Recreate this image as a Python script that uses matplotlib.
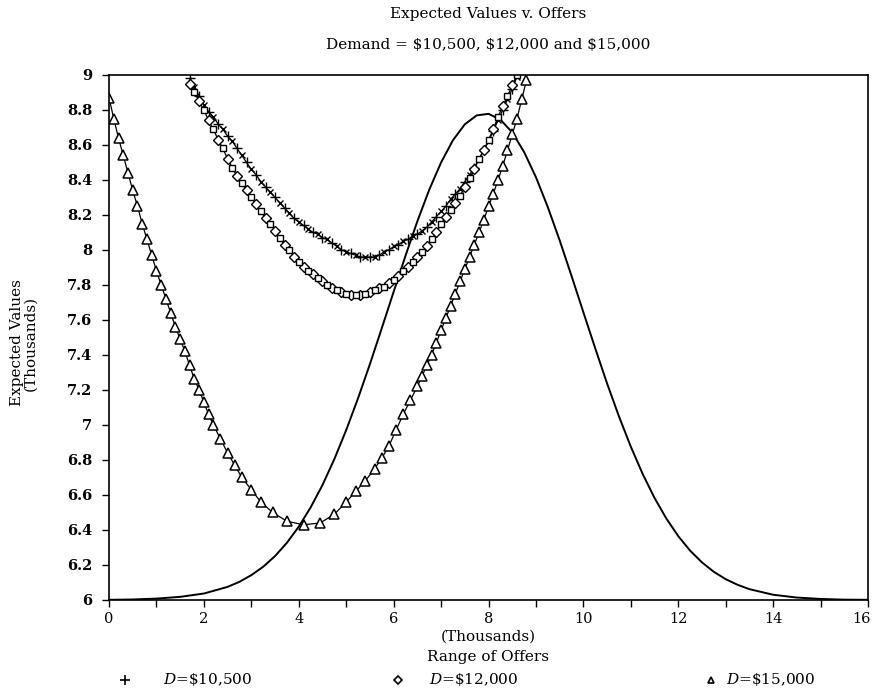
import matplotlib
matplotlib.use("Agg")
import matplotlib.pyplot as plt
import matplotlib.transforms as mtransforms
from matplotlib.lines import Line2D

plt.rcParams['font.family'] = ['DejaVu Serif']
plt.rcParams['mathtext.fontset'] = 'dejavuserif'

# D = $10,500 (crosses) and D = $12,000 (diamonds), x in thousands
x_top = [1.7, 1.8, 1.9, 2.0, 2.1, 2.2, 2.3, 2.4, 2.5, 2.6, 2.7, 2.8, 2.9, 3.0,
         3.1, 3.2, 3.3, 3.4, 3.5, 3.6, 3.7, 3.8, 3.9, 4.0, 4.1, 4.2, 4.3, 4.4,
         4.5, 4.6, 4.7, 4.8, 4.9, 5.0, 5.1, 5.2, 5.3, 5.4, 5.5, 5.6, 5.7, 5.8,
         5.9, 6.0, 6.1, 6.2, 6.3, 6.4, 6.5, 6.6, 6.7, 6.8, 6.9, 7.0, 7.1, 7.2,
         7.3, 7.4, 7.5, 7.6, 7.7, 7.8, 7.9, 8.0, 8.1, 8.2, 8.3, 8.4, 8.5, 8.6]
ev_10500 = [8.98, 8.93, 8.88, 8.83, 8.79, 8.76, 8.72, 8.69, 8.65, 8.62, 8.58, 8.54,
            8.50, 8.46, 8.43, 8.39, 8.36, 8.33, 8.30, 8.27, 8.24, 8.21, 8.18, 8.16,
            8.14, 8.12, 8.10, 8.09, 8.07, 8.06, 8.04, 8.02, 8.00, 7.99, 7.98, 7.97,
            7.96, 7.96, 7.96, 7.96, 7.97, 7.99, 8.00, 8.02, 8.03, 8.05, 8.06, 8.08,
            8.09, 8.11, 8.13, 8.16, 8.19, 8.22, 8.25, 8.29, 8.32, 8.35, 8.39, 8.43,
            8.47, 8.52, 8.57, 8.62, 8.68, 8.74, 8.80, 8.86, 8.92, 8.99]
ev_12000 = [8.95, 8.90, 8.85, 8.80, 8.74, 8.69, 8.63, 8.58, 8.52, 8.47, 8.42, 8.38,
            8.34, 8.30, 8.26, 8.22, 8.18, 8.15, 8.11, 8.07, 8.03, 8.00, 7.96, 7.93,
            7.90, 7.88, 7.86, 7.84, 7.82, 7.80, 7.78, 7.77, 7.76, 7.75, 7.74, 7.74,
            7.74, 7.75, 7.76, 7.77, 7.78, 7.79, 7.81, 7.83, 7.85, 7.88, 7.90, 7.93,
            7.96, 7.99, 8.02, 8.06, 8.10, 8.15, 8.19, 8.23, 8.27, 8.31, 8.36, 8.41,
            8.46, 8.52, 8.57, 8.63, 8.69, 8.76, 8.82, 8.88, 8.94, 9.00]

# D = $15,000 (triangles)
x_15000 = [0.0, 0.1, 0.2, 0.3, 0.4, 0.5, 0.6, 0.7, 0.8, 0.9, 1.0, 1.1, 1.2, 1.3,
           1.4, 1.5, 1.6, 1.7, 1.8, 1.9, 2.0, 2.1, 2.2, 2.35, 2.5, 2.65, 2.8, 3.0,
           3.2, 3.45, 3.75, 4.1, 4.45, 4.75, 5.0, 5.2, 5.4, 5.6, 5.75, 5.9, 6.05,
           6.2, 6.35, 6.5, 6.6, 6.7, 6.8, 6.9, 7.0, 7.1, 7.2, 7.3, 7.4, 7.5, 7.6,
           7.7, 7.8, 7.9, 8.0, 8.1, 8.2, 8.3, 8.4, 8.5, 8.6, 8.7, 8.8]
ev_15000 = [8.87, 8.75, 8.64, 8.54, 8.44, 8.34, 8.25, 8.15, 8.06, 7.97, 7.88, 7.80,
            7.72, 7.64, 7.56, 7.49, 7.42, 7.34, 7.26, 7.20, 7.13, 7.06, 7.00, 6.92,
            6.84, 6.77, 6.70, 6.63, 6.56, 6.50, 6.45, 6.43, 6.44, 6.49, 6.56, 6.62,
            6.68, 6.75, 6.81, 6.88, 6.97, 7.06, 7.14, 7.22, 7.28, 7.34, 7.40, 7.47,
            7.54, 7.61, 7.68, 7.75, 7.82, 7.89, 7.96, 8.03, 8.10, 8.17, 8.25, 8.32,
            8.40, 8.48, 8.57, 8.66, 8.75, 8.86, 8.97]

# distribution of offers (solid curve)
x_dist = [0.0, 0.5, 1.0, 1.5, 2.0, 2.5, 2.75, 3.0, 3.25, 3.5, 3.75, 4.0, 4.25,
          4.5, 4.75, 5.0, 5.25, 5.5, 5.75, 6.0, 6.25, 6.5, 6.75, 7.0, 7.25, 7.5,
          7.75, 8.0, 8.25, 8.5, 8.75, 9.0, 9.25, 9.5, 9.75, 10.0, 10.25, 10.5,
          10.75, 11.0, 11.25, 11.5, 11.75, 12.0, 12.25, 12.5, 12.75, 13.0, 13.25,
          13.5, 14.0, 14.5, 15.0, 15.5, 16.0]
y_dist = [6.001, 6.003, 6.008, 6.018, 6.037, 6.075, 6.104, 6.142, 6.190, 6.251,
          6.327, 6.419, 6.529, 6.657, 6.805, 6.971, 7.153, 7.348, 7.553, 7.761,
          7.967, 8.164, 8.344, 8.500, 8.627, 8.718, 8.769, 8.778, 8.745, 8.672,
          8.560, 8.416, 8.245, 8.055, 7.852, 7.644, 7.438, 7.237, 7.049, 6.876,
          6.720, 6.583, 6.465, 6.365, 6.282, 6.215, 6.161, 6.119, 6.087, 6.062,
          6.030, 6.014, 6.006, 6.002, 6.001]

legend_labels = [r"$D$=\$10,500", r"$D$=\$12,000", r"$D$=\$15,000"]

fig = plt.figure(figsize=(8.75, 6.93), dpi=100)
ax = fig.add_axes([0.1246, 0.1342, 0.8674, 0.7576])

lw = 0.9
ms = 6
ax.plot(x_dist, y_dist, color='black', lw=1.4)

ax.plot(x_top, ev_10500, color='black', lw=lw)
ax.plot(x_top[::2], ev_10500[::2], ls='none', marker='+', ms=ms + 1, mew=1.0, color='black')
ax.plot(x_top[1::2], ev_10500[1::2], ls='none', marker='x', ms=ms - 1, mew=1.0, color='black')

ax.plot(x_top, ev_12000, color='black', lw=lw)
ax.plot(x_top[::2], ev_12000[::2], ls='none', marker='D', ms=ms - 1, mew=1.0,
        mfc='white', mec='black')
ax.plot(x_top[1::2], ev_12000[1::2], ls='none', marker='s', ms=ms - 1.5, mew=1.0,
        mfc='white', mec='black')

ax.plot(x_15000, ev_15000, color='black', lw=lw)
ax.plot(x_15000, ev_15000, ls='none', marker='^', ms=ms + 1, mew=1.1,
        mfc='white', mec='black')

ax.set_xlim(0, 16)
ax.set_ylim(6, 9)
ax.set_xticks(range(0, 17, 2))
ax.set_xticks(range(1, 16, 2), minor=True)
ax.set_yticks([6 + 0.2 * i for i in range(16)])
ax.set_yticklabels(['6', '6.2', '6.4', '6.6', '6.8', '7', '7.2', '7.4', '7.6', '7.8',
                    '8', '8.2', '8.4', '8.6', '8.8', '9'], fontweight='bold')
ax.tick_params(axis='both', which='both', direction='out', length=5, width=1.0,
               labelsize=10.5)
ax.tick_params(axis='y', pad=7)
ax.tick_params(axis='x', pad=4)
for s in ax.spines.values():
    s.set_linewidth(1.2)

# keep the last x label inside the picture
last = ax.get_xticklabels()[-1]
last.set_transform(last.get_transform() +
                   mtransforms.ScaledTranslation(-6 / 100, 0, fig.dpi_scale_trans))

cx = 0.558
fig.text(cx, 1 - 14 / 693, "Expected Values v. Offers", ha='center', va='center', fontsize=11)
fig.text(cx, 1 - 45 / 693, "Demand = \\$10,500, \\$12,000 and \\$15,000",
         ha='center', va='center', fontsize=11)
fig.text(cx, 1 - 637 / 693, "(Thousands)", ha='center', va='center', fontsize=11)
fig.text(cx, 1 - 657 / 693, "Range of Offers", ha='center', va='center', fontsize=11)
fig.text(0.027, 0.505, "Expected Values\n(Thousands)", rotation=90, ha='center',
         va='center', multialignment='center', fontsize=11, linespacing=1.0)

# legend row along the bottom
ly = 1 - 680 / 693
marks = [('+', 'black', 7), ('D', 'white', 4.5), ('^', 'white', 5)]
mark_x = [125 / 875, 398 / 875, 711 / 875]
text_x = [163 / 875, 429 / 875, 726 / 875]
for (m, fc, size), mx, tx, lab in zip(marks, mark_x, text_x, legend_labels):
    fig.add_artist(Line2D([mx], [ly], transform=fig.transFigure, marker=m, ms=size,
                          mfc=fc, mec='black', mew=1.2, color='black', ls='none'))
    fig.text(tx, ly, lab, ha='left', va='center', fontsize=11)

fig.savefig("out.png", dpi=100)
